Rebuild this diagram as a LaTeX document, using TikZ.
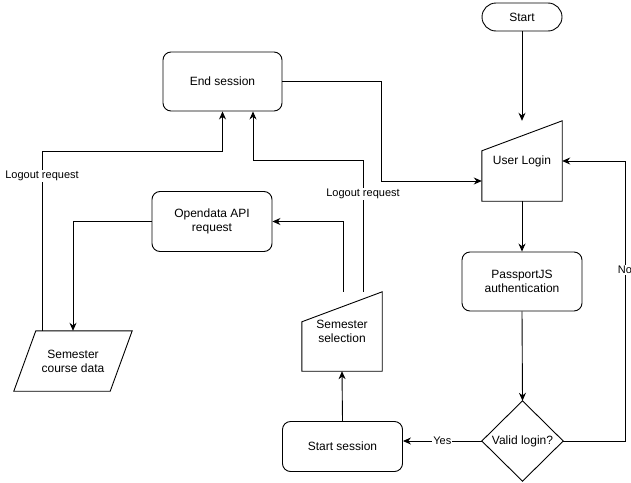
\documentclass[tikz,border=0pt]{standalone}
\usepackage{fontspec}
\setmainfont{Liberation Sans}
\usetikzlibrary{arrows.meta,calc}
\begin{document}
\begin{tikzpicture}[x=1pt,y=-1pt,
  every node/.style={font=\fontsize{12}{14}\selectfont, align=center},
  box/.style={draw, line width=0.9pt, rounded corners=8pt, minimum width=120pt, minimum height=60pt},
  pill/.style={draw, line width=0.9pt, rounded corners=14pt, minimum width=80pt, minimum height=28pt},
  plain/.style={draw=none, inner sep=0pt},
  outline/.style={line width=0.9pt, line join=miter},
  arr/.style={line width=0.9pt, -{Stealth[length=8pt,width=7pt]}},
  lbl/.style={fill=white, inner sep=1pt, font=\fontsize{11}{13}\selectfont}]
\useasboundingbox (0,0) rectangle (631,482);
\fill[white] (0,0) rectangle (631,482);
% nodes
\node[pill] (start) at (522,17) {Start};
\node[box, minimum width=119pt, minimum height=59pt] (end) at (222.5,81.5) {End session};
\node[box] (api) at (212,221.5) {Opendata API\\request};
\node[box, minimum height=59pt] (pass) at (522,281.5) {PassportJS\\authentication};
\node[box, minimum height=50pt] (ss) at (342.5,446.5) {Start session};
\node[plain, minimum width=81pt, minimum height=80pt] (valid) at (522.5,441) {Valid login?};
\draw[outline] (valid.north) -- (valid.east) -- (valid.south) -- (valid.west) -- cycle;
\node[plain, minimum width=80pt, minimum height=80pt] (login) at (522,161) {User Login};
\draw[outline] (login.south west) -- (login.south east) -- (login.north east) -- ($(login.north west)+(0,30)$) -- cycle;
\node[plain, minimum width=80pt, minimum height=79pt] (sel) at (342,331.5) {Semester\\selection};
\draw[outline] (sel.south west) -- (sel.south east) -- (sel.north east) -- ($(sel.north west)+(0,30)$) -- cycle;
\node[plain, minimum width=118pt, minimum height=60pt] (cd) at (73,361) {Semester\\course data};
\draw[outline] ($(cd.north west)+(22,0)$) -- (cd.north east) -- ($(cd.south east)+(-22,0)$) -- (cd.south west) -- cycle;
% helper coordinates
\coordinate (k1) at (253,160);
\coordinate (k2) at (222.5,151);
\coordinate (k3) at (381,81.5);
\coordinate (k4) at (625,441);
% connectors
\draw[arr] (start.south) -- (login.north);
\draw[arr] (login.south) -- (pass.north);
\draw[arr] (pass.south) -- (valid.north);
\draw[arr] (valid.east) -- (k4) |- node[lbl, pos=0.305]{No} (login.east);
\draw[arr] (valid.west) -- node[lbl]{Yes} (valid.west -| ss.east);
\draw[arr] (ss.north) -- (sel.south);
\draw[arr] ($(sel.north)+(1,0)$) |- (api.east);
\draw[arr] ($(sel.north)+(21,0)$) |- node[lbl, pos=0.372]{Logout request} (k1) -- ($(end.south)+(30.5,0)$);
\draw[arr] (api.west) -| (cd.north);
\draw[arr] ($(cd.north)+(-31,0)$) |- node[lbl, pos=0.43]{Logout request} (k2) -- (end.south);
\draw[arr] (end.east) -- (k3) |- ($(login.west)+(0,20)$);
\end{tikzpicture}
\end{document}
